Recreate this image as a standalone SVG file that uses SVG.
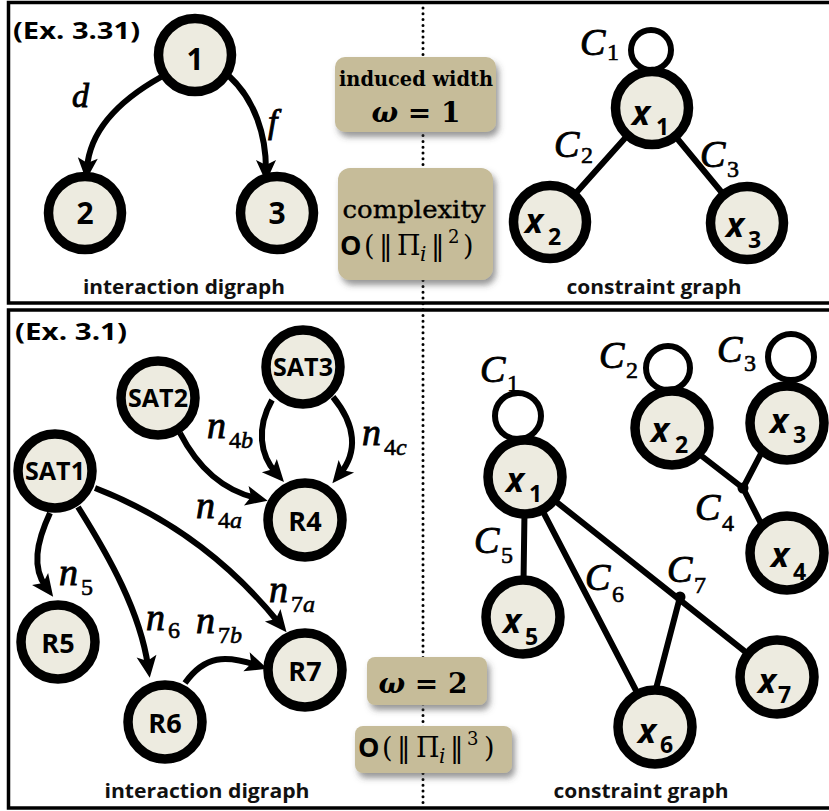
<svg xmlns="http://www.w3.org/2000/svg" width="829" height="811" viewBox="0 0 829 811">
  <style>
    .panel { fill: #fff; stroke: #000; stroke-width: 3.5; }
    .divider { stroke: #000; stroke-width: 3; stroke-linecap: round; stroke-dasharray: 0 5.8; fill: none; }
    .node circle { fill: #edebe0; stroke: #000; stroke-width: 9.5; }
    .nlabel { font-family: "Open Sans", "Liberation Sans", sans-serif; font-weight: bold; fill: #000; text-anchor: middle; }
    .xl { font-family: "Open Sans", "Liberation Sans", sans-serif; font-weight: bold; font-style: italic; font-size: 34px; fill: #000; }
    .xs { font-style: normal; font-size: 23px; }
    .arc { fill: none; stroke: #000; stroke-width: 6; }
    .tie { fill: none; stroke: #000; stroke-width: 6; stroke-linecap: round; }
    .loop { fill: none; stroke: #000; stroke-width: 6; }
    .hub { fill: #000; }
    .math { font-family: "Liberation Serif", "Times New Roman", serif; font-style: italic; fill: #000; stroke: #000; stroke-width: 0.9; }
    .msub { font-size: 24px; stroke-width: 0.6; }
    .up { font-style: normal; }
    .caption { font-family: "Open Sans", "Liberation Sans", sans-serif; font-weight: bold; font-size: 20px; fill: #111; text-anchor: middle; }
    .title { font-family: "Open Sans", "Liberation Sans", sans-serif; font-weight: bold; font-size: 24px; fill: #000; }
    .box { fill: #c6bc99; filter: url(#shadow); }
    .btxt { font-family: "DejaVu Serif", "Liberation Serif", serif; fill: #000; }
  </style>
  <defs>
    <marker id="ah" viewBox="-12 -12 26 24" refX="0" refY="0" markerWidth="26" markerHeight="24" markerUnits="userSpaceOnUse" orient="auto">
      <path d="M12,0 L-10,-10 L-5,0 L-10,10 Z" fill="#000"/>
    </marker>
    <filter id="shadow" x="-20%" y="-20%" width="150%" height="160%">
      <feDropShadow dx="3" dy="5" stdDeviation="3" flood-color="#444" flood-opacity="0.55"/>
    </filter>
  </defs>

  <!-- frames -->
  <rect class="panel" x="8.5" y="2.5" width="830" height="300.5"/>
  <rect class="panel" x="8.5" y="310" width="830" height="498"/>
  <line class="divider" x1="423" y1="8" x2="423" y2="806"/>

  <!-- panel titles and captions -->
  <text class="title" x="13" y="39" textLength="127" lengthAdjust="spacingAndGlyphs">(Ex. 3.31)</text>
  <text class="title" x="15" y="340" textLength="112" lengthAdjust="spacingAndGlyphs">(Ex. 3.1)</text>
  <text class="caption" x="184" y="294" textLength="202" lengthAdjust="spacingAndGlyphs">interaction digraph</text>
  <text class="caption" x="654" y="294" textLength="175" lengthAdjust="spacingAndGlyphs">constraint graph</text>
  <text class="caption" x="207" y="798" textLength="205" lengthAdjust="spacingAndGlyphs">interaction digraph</text>
  <text class="caption" x="641" y="798" textLength="175" lengthAdjust="spacingAndGlyphs">constraint graph</text>

  <!-- summary boxes -->
  <g id="box-width-1">
    <rect class="box" x="335" y="57" width="161" height="75" rx="10"/>
    <text class="btxt" x="416" y="86" font-size="20" font-weight="bold" text-anchor="middle" textLength="154" lengthAdjust="spacingAndGlyphs">induced width</text>
    <text class="btxt" x="416" y="122" font-size="28" font-weight="bold" text-anchor="middle"><tspan font-style="italic">ω</tspan> = 1</text>
  </g>
  <g id="box-complexity-1">
    <rect class="box" x="338" y="168" width="155" height="112" rx="12"/>
    <text class="btxt" x="414" y="218" font-size="25" text-anchor="middle" textLength="143" lengthAdjust="spacingAndGlyphs" stroke="#000" stroke-width="0.4">complexity</text>
    <text class="btxt" y="255" font-size="27"><tspan x="340" font-family="Open Sans, Liberation Sans, sans-serif" font-weight="bold">O</tspan><tspan x="364">(</tspan><tspan x="379">‖</tspan><tspan x="397">Π</tspan><tspan x="420" dy="6" font-size="20" font-style="italic">i</tspan><tspan x="431" dy="-6">‖</tspan><tspan x="448" dy="-12" font-size="18">2</tspan><tspan x="463" dy="12">)</tspan></text>
  </g>
  <g id="box-width-2">
    <rect class="box" x="367" y="657" width="120" height="48" rx="8"/>
    <text class="btxt" x="423" y="693" font-size="28" font-weight="bold" text-anchor="middle"><tspan font-style="italic">ω</tspan> = 2</text>
  </g>
  <g id="box-complexity-2">
    <rect class="box" x="355" y="726" width="157" height="47" rx="8"/>
    <text class="btxt" y="757" font-size="27"><tspan x="358" font-family="Open Sans, Liberation Sans, sans-serif" font-weight="bold">O</tspan><tspan x="382">(</tspan><tspan x="397">‖</tspan><tspan x="416">Π</tspan><tspan x="439" dy="6" font-size="20" font-style="italic">i</tspan><tspan x="450" dy="-6">‖</tspan><tspan x="467" dy="-12" font-size="18">3</tspan><tspan x="484" dy="12">)</tspan></text>
  </g>

  <!-- connectors -->
  <g id="connectors">
    <!-- Ex. 3.31 interaction digraph -->
    <path class="arc" d="M161,77 C120,100 90,130 87,168" marker-end="url(#ah)"/>
    <path class="arc" d="M229,76 C255,100 266,135 266,170" marker-end="url(#ah)"/>
    <!-- Ex. 3.31 constraint graph -->
    <circle class="loop" cx="651" cy="50" r="20"/>
    <line class="tie" x1="652" y1="108" x2="550" y2="222"/>
    <line class="tie" x1="652" y1="108" x2="747" y2="223"/>
    <!-- Ex. 3.1 interaction digraph -->
    <path class="arc" d="M180,433 C198,468 222,490 256,498" marker-end="url(#ah)"/>
    <path class="arc" d="M272,400 C256,428 260,455 276,473" marker-end="url(#ah)"/>
    <path class="arc" d="M333,397 C356,425 358,452 340,474" marker-end="url(#ah)"/>
    <path class="arc" d="M50,513 C36,543 32,568 46,587" marker-end="url(#ah)"/>
    <path class="arc" d="M78,507 C110,558 140,612 148,666" marker-end="url(#ah)"/>
    <path class="arc" d="M95,488 C165,515 228,560 279,623" marker-end="url(#ah)"/>
    <path class="arc" d="M185,683 C205,655 226,655 256,665" marker-end="url(#ah)"/>
    <!-- Ex. 3.1 constraint graph -->
    <circle class="loop" cx="518" cy="416" r="23"/>
    <circle class="loop" cx="668" cy="368" r="22"/>
    <circle class="loop" cx="791" cy="357" r="23"/>
    <line class="tie" x1="672" y1="433" x2="743" y2="488"/>
    <line class="tie" x1="777" y1="423" x2="743" y2="488"/>
    <line class="tie" x1="743" y1="488" x2="776" y2="553"/>
    <line class="tie" x1="525" y1="477" x2="523" y2="617"/>
    <line class="tie" x1="525" y1="477" x2="655" y2="727"/>
    <line class="tie" x1="525" y1="477" x2="777" y2="677"/>
    <line class="tie" x1="680" y1="597" x2="646" y2="727"/>
    <circle class="hub" cx="743" cy="488" r="5.5"/>
    <circle class="hub" cx="680" cy="597" r="5.5"/>
  </g>

  <!-- connector labels -->
  <text class="math" x="72" y="107" font-size="34">d</text>
  <text class="math" x="268" y="133" font-size="34">f</text>
  <text class="math" x="580" y="55" font-size="38">C<tspan class="msub up" x="607" y="60">1</tspan></text>
  <text class="math" x="554" y="157" font-size="38">C<tspan class="msub up" x="581" y="163">2</tspan></text>
  <text class="math" x="700" y="167" font-size="38">C<tspan class="msub up" x="727" y="177">3</tspan></text>

  <text class="math" x="207" y="438" font-size="38">n<tspan class="msub" x="229" y="448"><tspan class="up">4</tspan>b</tspan></text>
  <text class="math" x="362" y="445" font-size="38">n<tspan class="msub" x="384" y="455"><tspan class="up">4</tspan>c</tspan></text>
  <text class="math" x="196" y="518" font-size="38">n<tspan class="msub" x="218" y="528"><tspan class="up">4</tspan>a</tspan></text>
  <text class="math" x="59" y="585" font-size="38">n<tspan class="msub up" x="81" y="595">5</tspan></text>
  <text class="math" x="146" y="630" font-size="38">n<tspan class="msub up" x="168" y="638">6</tspan></text>
  <text class="math" x="196" y="633" font-size="38">n<tspan class="msub" x="218" y="643"><tspan class="up">7</tspan>b</tspan></text>
  <text class="math" x="269" y="602" font-size="38">n<tspan class="msub" x="291" y="612"><tspan class="up">7</tspan>a</tspan></text>

  <text class="math" x="480" y="382" font-size="38">C<tspan class="msub up" x="507" y="391">1</tspan></text>
  <text class="math" x="599" y="368" font-size="38">C<tspan class="msub up" x="626" y="378">2</tspan></text>
  <text class="math" x="717" y="362" font-size="38">C<tspan class="msub up" x="744" y="371">3</tspan></text>
  <text class="math" x="695" y="520" font-size="38">C<tspan class="msub up" x="722" y="531">4</tspan></text>
  <text class="math" x="474" y="553" font-size="38">C<tspan class="msub up" x="501" y="563">5</tspan></text>
  <text class="math" x="585" y="590" font-size="38">C<tspan class="msub up" x="612" y="602">6</tspan></text>
  <text class="math" x="667" y="582" font-size="38">C<tspan class="msub up" x="694" y="593">7</tspan></text>

  <!-- Ex. 3.31 interaction digraph nodes -->
  <g id="n1" class="node"><circle cx="195" cy="55" r="36.5"/><text class="nlabel" x="195" y="70" font-size="30">1</text></g>
  <g id="n2" class="node"><circle cx="85" cy="213" r="36.5"/><text class="nlabel" x="85" y="224" font-size="30">2</text></g>
  <g id="n3" class="node"><circle cx="277" cy="213" r="36.5"/><text class="nlabel" x="277" y="224" font-size="30">3</text></g>

  <!-- Ex. 3.31 constraint graph nodes -->
  <g id="a-x1" class="node"><circle cx="652" cy="108" r="36.5"/><text class="xl" x="632" y="125">x<tspan class="xs" x="656" y="135">1</tspan></text></g>
  <g id="a-x2" class="node"><circle cx="550" cy="222" r="36.5"/><text class="xl" x="525" y="233">x<tspan class="xs" x="548" y="245">2</tspan></text></g>
  <g id="a-x3" class="node"><circle cx="747" cy="223" r="36.5"/><text class="xl" x="726" y="237">x<tspan class="xs" x="748" y="248">3</tspan></text></g>

  <!-- Ex. 3.1 interaction digraph nodes -->
  <g id="SAT1" class="node"><circle cx="55" cy="471" r="37"/><text class="nlabel" x="55" y="480" font-size="25" textLength="60" lengthAdjust="spacingAndGlyphs">SAT1</text></g>
  <g id="SAT2" class="node"><circle cx="158" cy="398" r="37"/><text class="nlabel" x="158" y="407" font-size="25" textLength="60" lengthAdjust="spacingAndGlyphs">SAT2</text></g>
  <g id="SAT3" class="node"><circle cx="303" cy="367" r="37"/><text class="nlabel" x="303" y="376" font-size="25" textLength="60" lengthAdjust="spacingAndGlyphs">SAT3</text></g>
  <g id="R4" class="node"><circle cx="305" cy="520" r="37"/><text class="nlabel" x="305" y="531" font-size="27">R4</text></g>
  <g id="R5" class="node"><circle cx="58" cy="642" r="37"/><text class="nlabel" x="58" y="653" font-size="27">R5</text></g>
  <g id="R6" class="node"><circle cx="165" cy="722" r="37"/><text class="nlabel" x="165" y="733" font-size="27">R6</text></g>
  <g id="R7" class="node"><circle cx="305" cy="670" r="37"/><text class="nlabel" x="305" y="681" font-size="27">R7</text></g>

  <!-- Ex. 3.1 constraint graph nodes -->
  <g id="b-x1" class="node"><circle cx="525" cy="477" r="37"/><text class="xl" x="506" y="492">x<tspan class="xs" x="529" y="502">1</tspan></text></g>
  <g id="b-x2" class="node"><circle cx="672" cy="428" r="37"/><text class="xl" x="651" y="442">x<tspan class="xs" x="675" y="453">2</tspan></text></g>
  <g id="b-x3" class="node"><circle cx="787" cy="423" r="37"/><text class="xl" x="770" y="433">x<tspan class="xs" x="793" y="443">3</tspan></text></g>
  <g id="b-x4" class="node"><circle cx="787" cy="553" r="37"/><text class="xl" x="771" y="567">x<tspan class="xs" x="793" y="580">4</tspan></text></g>
  <g id="b-x5" class="node"><circle cx="523" cy="617" r="37"/><text class="xl" x="503" y="633">x<tspan class="xs" x="525" y="645">5</tspan></text></g>
  <g id="b-x6" class="node"><circle cx="655" cy="727" r="37"/><text class="xl" x="638" y="743">x<tspan class="xs" x="660" y="753">6</tspan></text></g>
  <g id="b-x7" class="node"><circle cx="777" cy="677" r="37"/><text class="xl" x="758" y="693">x<tspan class="xs" x="778" y="703">7</tspan></text></g>
</svg>
